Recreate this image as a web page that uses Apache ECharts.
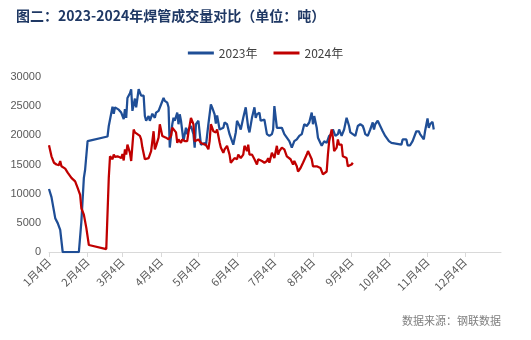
<!DOCTYPE html>
<html><head><meta charset="utf-8">
<script src="https://cdn.jsdelivr.net/npm/echarts@6/dist/echarts.min.js"></script>
<style>html,body{margin:0;padding:0;background:#fff}#c{width:531px;height:340px}</style>
</head><body><div id="c"></div>
<script>
// Tick labels shown on the x axis
const tickLabels = ['1月4日','2月4日','3月4日','4月4日','5月4日','6月4日','7月4日','8月4日','9月4日','10月4日','11月4日','12月4日'];
const yTicks = [0, 5000, 10000, 15000, 20000, 25000, 30000];

// 2023 series (month/day, tonnes)
const dates2023 = ['1/4','1/5','1/6','1/7','1/9','1/11','1/13','1/15','1/28','1/30','2/1','2/2','2/4','2/20','2/21','2/22','2/24','2/25','2/26','3/1','3/3','3/5','3/6','3/7','3/8','3/10','3/11','3/12','3/14','3/15','3/17','3/19','3/21','3/22','3/23','3/25','3/26','3/28','3/30','3/31','4/2','4/3','4/6','4/7','4/9','4/10','4/11','4/13','4/14','4/15','4/17','4/18','4/19','4/20','4/22','4/24','4/25','4/26','4/28','4/30','5/1','5/2','5/4','5/5','5/6','5/9','5/10','5/12','5/14','5/15','5/17','5/18','5/19','5/21','5/24','5/25','5/27','5/29','6/1','6/3','6/4','6/6','6/7','6/9','6/11','6/12','6/13','6/14','6/16','6/18','6/19','6/20','6/22','6/23','6/24','6/26','6/28','6/30','7/2','7/3','7/4','7/6','7/7','7/10','7/11','7/12','7/14','7/16','7/18','7/20','7/22','7/24','7/26','7/28','7/30','8/1','8/3','8/4','8/5','8/7','8/8','8/9','8/11','8/13','8/15','8/17','8/19','8/20','8/22','8/24','8/25','8/27','8/28','8/29','8/31','9/2','9/3','9/5','9/6','9/7','9/9','9/11','9/13','9/14','9/15','9/17','9/19','9/21','9/22','9/23','9/25','9/27','9/28','9/29','10/1','10/2','10/4','10/6','10/14','10/15','10/18','10/19','10/21','10/23','10/26','10/28','10/29','11/1','11/2','11/4','11/5','11/6','11/8','11/9'];
const values2023 = [10800,10500,9400,9250,5800,4950,3800,0,0,5200,12700,14100,19000,19800,21600,21900,24900,23700,24800,24400,23900,22800,24500,23000,26400,27200,27900,24200,26300,24800,27900,26800,26800,23300,22500,23300,22500,23700,23000,23900,24200,23900,26400,25900,25600,24800,17900,21900,23000,22500,23900,21900,23600,22500,19000,21300,20200,21000,21600,20200,17900,21900,22500,22500,18400,18700,18200,21900,25300,24800,23600,22000,23400,21000,21300,22200,21900,20200,18400,20500,22500,21600,21000,23000,24800,23000,21300,20500,23000,24800,23000,23600,23900,22500,22500,22700,20200,19900,20200,21000,25000,21300,21600,21300,21600,20200,19600,19000,17900,19000,19300,19900,20200,21900,21600,22200,23900,21900,23300,21300,19600,19900,18200,19000,18700,19900,20200,21000,19900,20200,21000,19900,20200,21000,23000,21600,20500,20200,20500,19900,21600,21900,21600,21000,20200,19900,21000,22200,21000,21900,22500,21600,21900,20700,19900,20200,19000,18700,18400,19300,19300,18300,18300,19000,20700,20700,20200,19300,20700,22900,21300,21900,22300,21000];

// 2024 series (month/day, tonnes)
const dates2024 = ['1/4','1/5','1/6','1/8','1/10','1/12','1/13','1/14','1/17','1/19','1/22','1/25','1/27','1/29','1/30','2/1','2/3','2/5','2/19','2/20','2/21','2/22','2/24','2/25','2/26','2/28','3/3','3/4','3/5','3/6','3/7','3/8','3/10','3/11','3/12','3/13','3/14','3/15','3/18','3/19','3/20','3/22','3/23','3/25','3/26','3/27','3/29','3/30','3/31','4/2','4/3','4/5','4/6','4/8','4/10','4/12','4/13','4/14','4/16','4/17','4/18','4/20','4/21','4/23','4/25','4/26','4/28','4/30','5/1','5/2','5/4','5/6','5/8','5/10','5/12','5/13','5/14','5/16','5/18','5/19','5/21','5/22','5/24','5/25','5/27','5/29','5/30','6/2','6/4','6/5','6/7','6/9','6/10','6/12','6/13','6/14','6/16','6/18','6/20','6/21','6/24','6/26','6/28','6/29','6/30','7/2','7/4','7/6','7/7','7/8','7/10','7/11','7/12','7/14','7/15','7/17','7/19','7/20','7/22','7/23','7/25','7/27','7/28','7/30','7/31','8/1','8/3','8/4','8/5','8/7','8/8','8/10','8/12','8/13','8/15','8/16','8/17','8/19','8/20','8/21','8/23','8/24','8/25','8/27','8/28','8/29','8/31','9/1','9/2','9/4','9/5'];
const values2024 = [18300,18100,16400,15300,15000,14900,15600,14700,14300,13600,12700,12100,11000,9800,7500,6400,4100,1200,500,300,12700,16400,15900,16700,16300,16400,16100,16800,15700,17600,16700,18400,17000,15600,15300,21000,20500,20200,19900,19300,17900,15900,15700,16100,16400,17300,20700,17600,18200,19600,21900,19900,19600,19600,19300,19900,21300,21000,20500,18700,19300,18700,19300,19000,19000,20500,23000,21900,19000,19300,19300,18700,18500,18400,17600,19000,21900,20700,20500,21000,18800,17900,17000,17600,18200,16700,15300,16100,15900,16700,16100,16700,18200,17300,18400,16700,16700,15900,15000,15900,15600,15300,15600,16100,15300,17000,16100,18200,16700,17300,17900,18200,17600,16400,16100,15900,15000,15600,14700,13800,14400,15300,15600,16700,17300,17600,15900,14700,14400,14700,15000,14400,13300,13400,13800,16700,19000,21000,19600,17300,17900,19300,18400,18400,16400,16100,16100,14700,14700,15000,15300];

// Daily category axis: Jan 4 through Jan 2 of the following year
const categories = [];
(function(){
  const d = new Date(2023, 0, 4);
  for (let i = 0; i < 364; i++) {
    categories.push((d.getMonth()+1) + '月' + d.getDate() + '日');
    d.setDate(d.getDate() + 1);
  }
})();
const toCat = s => { const p = s.split('/'); return p[0] + '月' + p[1] + '日'; };
const labelSet = new Set(tickLabels);
const showTick = (idx, name) => labelSet.has(name);

const chart = echarts.init(document.getElementById('c'), null, {renderer: 'canvas'});
chart.setOption({
  backgroundColor: '#fff',
  animation: false,
  title: {
    text: '图二：2023-2024年焊管成交量对比（单位：吨）',
    left: 11, top: 4,
    textStyle: {fontFamily: 'Noto Sans CJK SC', fontWeight: 'bold', fontSize: 14, color: '#1F3864'}
  },
  legend: {
    top: 42, left: 'center',
    icon: 'rect', itemWidth: 26, itemHeight: 3, itemGap: 16,
    textStyle: {fontFamily: 'Noto Sans CJK SC', fontSize: 12, color: '#404040'},
    data: ['2023年', '2024年']
  },
  grid: {left: 49, right: 30, top: 77, bottom: 88, containLabel: false},
  xAxis: {
    type: 'category',
    data: categories,
    boundaryGap: false,
    axisLine: {lineStyle: {color: '#D9D9D9', width: 1}},
    axisTick: {show: true, interval: showTick, length: 5, lineStyle: {color: '#D9D9D9'}},
    axisLabel: {interval: showTick, rotate: 45, margin: 8, fontSize: 11, color: '#595959', fontFamily: 'Noto Sans CJK SC'},
    splitLine: {show: false}
  },
  yAxis: {
    type: 'value', min: yTicks[0], max: yTicks[yTicks.length-1], interval: 5000,
    axisLine: {show: false}, axisTick: {show: false},
    axisLabel: {fontSize: 11, color: '#595959', margin: 8, fontFamily: 'Liberation Sans', formatter: v => String(v)},
    splitLine: {show: false}
  },
  series: [
    {
      name: '2023年', type: 'line', symbol: 'none', smooth: false,
      lineStyle: {color: '#1F4E96', width: 2.25}, itemStyle: {color: '#1F4E96'},
      data: dates2023.map((d, i) => [toCat(d), values2023[i]])
    },
    {
      name: '2024年', type: 'line', symbol: 'none', smooth: false,
      lineStyle: {color: '#C00000', width: 2.25}, itemStyle: {color: '#C00000'},
      data: dates2024.map((d, i) => [toCat(d), values2024[i]])
    }
  ],
  graphic: [{
    type: 'text', right: 30, top: 315,
    style: {text: '数据来源：钢联数据', font: '11px "Noto Sans CJK SC"', fill: '#7F7F7F'}
  }]
});
</script></body></html>
